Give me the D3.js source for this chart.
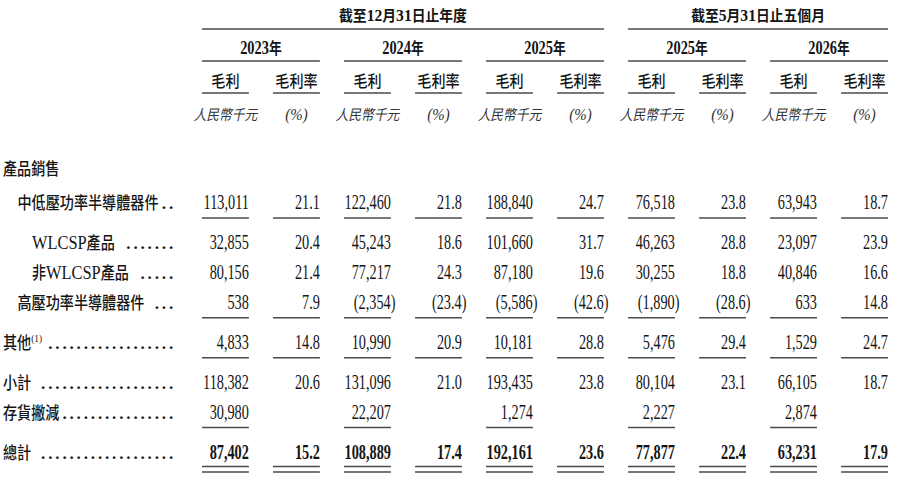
<!DOCTYPE html>
<html>
<head>
<meta charset="utf-8">
<script src="https://cdn.jsdelivr.net/npm/d3@7"></script>
<style>
  body { margin: 0; background: #fff; }
  svg { display: block; }
</style>
</head>
<body>
<svg id="svg"></svg>
<script>
// ---- data ----
const groupTitles = ['截至12月31日止年度', '截至5月31日止五個月'];
const periods = ['2023年', '2024年', '2025年', '2025年', '2026年'];
const measures = ['毛利', '毛利率'];
const units = ['人民幣千元', '(%)'];

const rowLabels = ['產品銷售', '中低壓功率半導體器件', 'WLCSP產品', '非WLCSP產品',
  '高壓功率半導體器件', '其他', '小計', '存貨撇減', '總計'];
const rowNotes = ['', '', '', '', '', '(1)', '', '', ''];

// gross profit (RMB'000) and gross margin (%) per period, one entry per row
const gp2023 = [null, 113011, 32855, 80156, 538, 4833, 118382, 30980, 87402];
const gm2023 = [null, 21.1, 20.4, 21.4, 7.9, 14.8, 20.6, null, 15.2];
const gp2024 = [null, 122460, 45243, 77217, -2354, 10990, 131096, 22207, 108889];
const gm2024 = [null, 21.8, 18.6, 24.3, -23.4, 20.9, 21.0, null, 17.4];
const gp2025 = [null, 188840, 101660, 87180, -5586, 10181, 193435, 1274, 192161];
const gm2025 = [null, 24.7, 31.7, 19.6, -42.6, 28.8, 23.8, null, 23.6];
const gp5m2025 = [null, 76518, 46263, 30255, -1890, 5476, 80104, 2227, 77877];
const gm5m2025 = [null, 23.8, 28.8, 18.8, -28.6, 29.4, 23.1, null, 22.4];
const gp5m2026 = [null, 63943, 23097, 40846, 633, 1529, 66105, 2874, 63231];
const gm5m2026 = [null, 18.7, 23.9, 16.6, 14.8, 24.7, 18.7, null, 17.9];

const gpCols = [gp2023, gp2024, gp2025, gp5m2025, gp5m2026];
const gmCols = [gm2023, gm2024, gm2025, gm5m2025, gm5m2026];

// ---- layout ----
const W = 900, H = 485;
const SERIF = '"Liberation Serif", "Times New Roman", serif';
const CJK = '"Noto Sans CJK TC", "Noto Sans CJK SC", sans-serif';
const INK = '#141414';
const RULE = '#4a4a4a';

const rowIndent = [0, 1, 2, 2, 1, 0, 0, 0, 0];
const rowRule = ['none', 'single', 'none', 'none', 'single', 'single', 'none', 'single', 'double'];
const rowBold = [false, false, false, false, false, false, false, false, true];
const rowDotGap = [0, 2, 6, 6, 6, 2, 6, 1, 6];

const svg = d3.select('#svg').attr('width', W).attr('height', H);

// columns: 5 periods x (毛利, 毛利率)
const colKeys = [];
periods.forEach((p, i) => measures.forEach((m, j) => colKeys.push(`${i}-${j}`)));
const x = d3.scaleBand().domain(colKeys).range([202, 888]).paddingInner(0.34).paddingOuter(0);
const bw = x.bandwidth();
const colL = (i, j) => x(`${i}-${j}`);
const colR = (i, j) => x(`${i}-${j}`) + bw;

// rows: cumulative spacing, extra room after underlined rows and the heading
const rowCum = [];
rowLabels.forEach((r, i) => {
  if (i === 0) { rowCum.push(0); return; }
  let step = 1;
  if (rowRule[i - 1] !== 'none') step += 0.33;
  if (i === 1) step += 0.13;
  rowCum.push(rowCum[i - 1] + step);
});
const y = d3.scaleLinear().domain([0, 1]).range([175, 205]);
const xIndent = d3.scaleLinear().domain([0, 2]).range([3, 32]);

// helper: text split into latin (serif) and CJK runs
function addRuns(t, str, latinSize, cjkSize, cjkWeight) {
  const runs = str.match(/[A-Za-z0-9(),.%]+|[^A-Za-z0-9(),.%]+/g);
  runs.forEach(r => {
    const latin = /^[A-Za-z0-9(),.%]/.test(r);
    const s = t.append('tspan').text(r)
      .attr('font-family', latin ? SERIF : CJK)
      .attr('font-size', latin ? latinSize : cjkSize);
    if (!latin && cjkWeight) s.attr('font-weight', cjkWeight);
  });
  return t;
}

function hline(x1, x2, yy, w) {
  svg.append('line')
    .attr('x1', x1).attr('x2', x2).attr('y1', yy).attr('y2', yy)
    .attr('stroke', RULE).attr('stroke-width', w || 1.5);
}

// ---- header ----
const groupSpans = [[0, 2], [3, 4]];
groupTitles.forEach((g, k) => {
  const a = colL(groupSpans[k][0], 0), b = colR(groupSpans[k][1], 1);
  const t = svg.append('text')
    .attr('transform', `translate(${(a + b) / 2},21) scale(0.92,1)`)
    .attr('text-anchor', 'middle').attr('fill', INK).attr('font-weight', 'bold');
  addRuns(t, g, 17, 15);
  hline(a, b, 29);
});

periods.forEach((p, i) => {
  const a = colL(i, 0), b = colR(i, 1);
  const t = svg.append('text')
    .attr('transform', `translate(${(a + b) / 2},54) scale(0.8,1)`)
    .attr('text-anchor', 'middle').attr('fill', INK).attr('font-weight', 'bold');
  addRuns(t, p, 18, 16);
  hline(a, b, 61);

  measures.forEach((m, j) => {
    const cx = colL(i, j) + bw / 2;
    svg.append('text')
      .attr('transform', `translate(${cx},87) scale(0.88,1)`)
      .attr('text-anchor', 'middle').attr('fill', INK)
      .attr('font-family', CJK).attr('font-size', 16).attr('font-weight', 500)
      .text(m);
    hline(colL(i, j), colR(i, j), 93);

    const u = svg.append('text')
      .attr('transform', `translate(${cx},120) scale(0.88,1)`)
      .attr('text-anchor', 'middle').attr('fill', '#333')
      .attr('font-style', 'italic');
    addRuns(u, units[j], 17, 14.5);
  });
});

// ---- row labels with dot leaders ----
const DOT_END = 176, DOT_STEP = 7.1;
rowLabels.forEach((lab, r) => {
  const yy = y(rowCum[r]);
  const lx = xIndent(rowIndent[r]);
  const sx = 0.84;
  const t = svg.append('text')
    .attr('transform', `translate(${lx},${yy}) scale(${sx},1)`)
    .attr('fill', INK);
  addRuns(t, lab, 19.5, 16.8, 500);
  if (rowNotes[r]) {
    t.append('tspan').text(rowNotes[r])
      .attr('font-family', SERIF).attr('font-size', 11).attr('dy', -7);
  }
  if (r === 0) return;
  const end = lx + t.node().getComputedTextLength() * sx + rowDotGap[r];
  const n = Math.floor((DOT_END - end) / DOT_STEP);
  if (n > 0) {
    svg.append('text')
      .attr('x', DOT_END - n * DOT_STEP).attr('y', yy)
      .attr('font-family', SERIF).attr('font-size', 17).attr('font-weight', 'bold')
      .attr('letter-spacing', DOT_STEP - 4.25)
      .attr('fill', INK)
      .text('.'.repeat(n));
  }
});

// ---- cells ----
const fmtInt = d3.format(',');
const fmtPct = d3.format('.1f');
function cellText(v, isRate) {
  const s = isRate ? fmtPct(Math.abs(v)) : fmtInt(Math.abs(v));
  return v < 0 ? `(${s})` : s;
}

periods.forEach((p, i) => {
  [gpCols[i], gmCols[i]].forEach((vals, j) => {
    vals.forEach((v, r) => {
      if (v === null) return;
      const yy = y(rowCum[r]);
      svg.append('text')
        .attr('transform', `translate(${colR(i, j) + (v < 0 ? 4.5 : 0)},${yy}) scale(0.68,1)`)
        .attr('text-anchor', 'end')
        .attr('font-family', SERIF).attr('font-size', 21)
        .attr('font-weight', rowBold[r] ? 'bold' : 'normal')
        .attr('fill', INK)
        .text(cellText(v, j === 1));
      if (rowRule[r] === 'single') {
        hline(colL(i, j), colR(i, j), yy + 9);
      } else if (rowRule[r] === 'double') {
        hline(colL(i, j), colR(i, j), yy + 8, 1.4);
        hline(colL(i, j), colR(i, j), yy + 13.5, 1.4);
      }
    });
  });
});
</script>
</body>
</html>
